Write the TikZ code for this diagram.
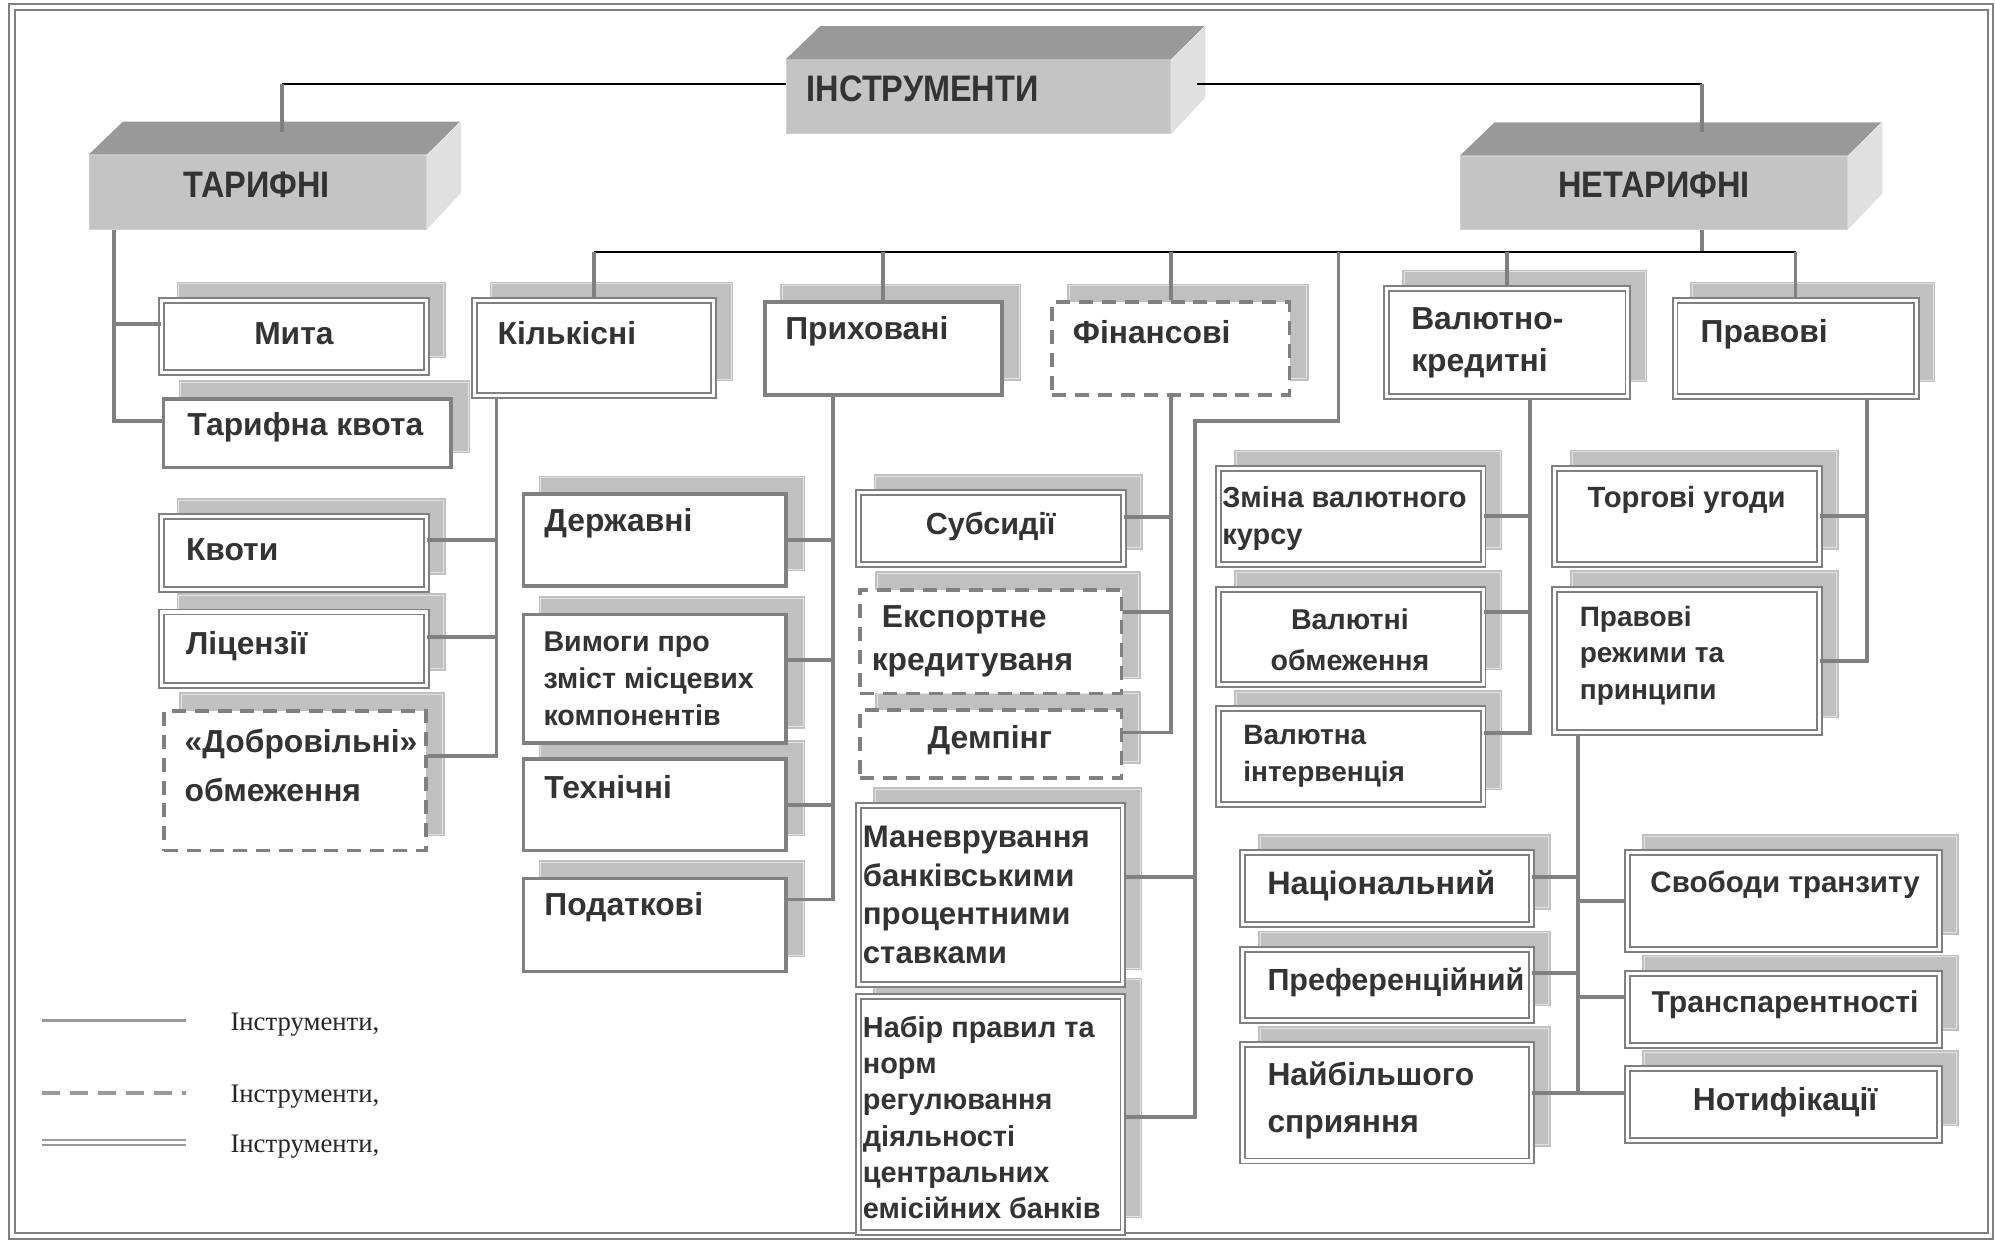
\documentclass[tikz,border=0pt]{standalone}
\usepackage{fontspec}
\setmainfont{Liberation Sans}
\newfontfamily\titfont{Liberation Sans}[FakeStretch=0.88]
\newfontfamily\legfont{Liberation Serif}
\usepackage{tikz}
\usetikzlibrary{shadows}
\definecolor{txt}{HTML}{333333}
\definecolor{lin}{HTML}{808080}
\definecolor{shd}{HTML}{C0C0C0}
\definecolor{shdin}{HTML}{E2E2E2}
\definecolor{front}{HTML}{C4C4C4}
\definecolor{topf}{HTML}{999999}
\definecolor{side}{HTML}{E0E0E0}
\definecolor{leg}{HTML}{999999}
\begin{document}
\begin{tikzpicture}[x=1pt, y=-1pt,
  Sz/.style 2 args={minimum width=#1pt, minimum height=#2pt, inner sep=0pt},
  Shd/.style={general shadow={fill=shd, draw=shd, solid, line width=1.4pt,
      double=shdin, double distance=0.5pt, shadow xshift=13.5pt, shadow yshift=13pt}},
  Dbl/.style={Shd, draw=lin, fill=white, line width=1.5pt, double=white, double distance=2.4pt},
  Thk/.style={Shd, draw=lin, fill=white, line width=3pt},
  Dsh/.style={Shd, draw=lin, fill=white, line width=3pt, dash pattern=on 11pt off 7pt},
  Cube/.style={fill=front, draw=front!80!white, line width=0.8pt},
  Tit/.style={font=\titfont\bfseries\fontsize{29}{32}\selectfont, text=txt, inner sep=0pt},
  Lb/.style 2 args={font=\bfseries\fontsize{#1}{#2}\selectfont, text=txt, inner sep=0pt, align=left},
  Gry/.style={draw=lin, line width=3pt},
  Blk/.style={draw=black, line width=1.5pt},
  Leg/.style={font=\legfont\fontsize{21}{25}\selectfont, text=black!85, inner sep=0pt, anchor=west},
  LgS/.style={draw=leg, line width=3pt},
  LgD/.style={draw=leg, line width=3pt, dash pattern=on 14pt off 8pt},
  LgW/.style={draw=leg, line width=1.6pt, double=white, double distance=2.5pt}]
  \useasboundingbox (0,0) rectangle (1568,975);
  \draw[lin, line width=1.5pt, double=white, double distance=3pt] (9.5,5.5) rectangle (1564.5,971.5);

  \node[Cube, Sz={302}{58}] (instr) at (769,76) {};
  \node[Cube, Sz={265}{58}] (tar) at (202.5,151) {};
  \node[Cube, Sz={304}{57.4}] (netar) at (1300,151.3) {};
  \foreach \n/\w in {instr/302, tar/265, netar/304} {
    \fill[topf] (\n.north west) -- ++(27,-26) -- ++(\w,0) -- (\n.north east) -- cycle;
    \fill[side] (\n.north east) -- ++(27,-26) -- ++(0,56) -- (\n.south east) -- cycle;
  }
  \node[Tit, anchor=west] (instrT) at (634,69.5) {ІНСТРУМЕНТИ};
  \node[Tit, anchor=west] (tarT) at (144,145.5) {ТАРИФНІ};
  \node[Tit] (netarT) at (1300,145) {НЕТАРИФНІ};

  \node[Thk, Sz={226}{54}] (tkvota) at (241.5,340.5) {};
  \node[Dbl, Sz={208}{57}] (mita) at (231,264.5) {};
  \node[Dsh, Sz={205.5}{110}] (dobr) at (231.75,613.5) {};
  \node[Dbl, Sz={208}{57.6}] (lits) at (231,509.8) {};
  \node[Dbl, Sz={208}{57}] (kvoty) at (231,434.5) {};
  \node[Dbl, Sz={188}{75}] (kilk) at (467,273.5) {};
  \node[Thk, Sz={206}{73}] (podatk) at (514.5,727) {};
  \node[Thk, Sz={206}{72}] (tekhn) at (514.5,632.5) {};
  \node[Thk, Sz={206}{101}] (vymogy) at (514.5,533.5) {};
  \node[Thk, Sz={206}{72}] (derzh) at (514.5,424.5) {};
  \node[Thk, Sz={186.5}{73}] (prykh) at (694.25,274) {};
  \node[Dbl, Sz={208}{186}] (nabir) at (778.6,876) {};
  \node[Dbl, Sz={208}{140.7}] (manevr) at (778.6,703.35) {};
  \node[Dsh, Sz={205.5}{53.5}] (demp) at (778.75,584.75) {};
  \node[Dsh, Sz={205.5}{81.5}] (eksp) at (778.75,504.25) {};
  \node[Dbl, Sz={208.3}{56.5}] (subs) at (778.85,415.25) {};
  \node[Dsh, Sz={186.5}{73}] (fin) at (920.25,274) {};
  \node[Dbl, Sz={189.5}{85.2}] (valkr) at (1184.75,269.2) {};
  \node[Dbl, Sz={189.5}{75.8}] (prav) at (1411.25,273.9) {};
  \node[Dbl, Sz={207.6}{75.6}] (valint) at (1061.8,594.8) {};
  \node[Dbl, Sz={207.6}{75}] (valobm) at (1061.8,500.5) {};
  \node[Dbl, Sz={207.6}{75.5}] (zmina) at (1061.8,405.75) {};
  \node[Dbl, Sz={208}{112.8}] (pravrezh) at (1326,519.4) {};
  \node[Dbl, Sz={208}{75.5}] (torg) at (1326,405.75) {};
  \node[Dbl, Sz={227}{91.5}] (naib) at (1090.2,866.75) {};
  \node[Dbl, Sz={227}{56}] (pref) at (1090.2,774) {};
  \node[Dbl, Sz={227}{56.5}] (nats) at (1090.2,698.25) {};
  \node[Dbl, Sz={245.5}{56.6}] (notyf) at (1401.55,868.3) {};
  \node[Dbl, Sz={245.5}{56.6}] (transp) at (1401.55,793.3) {};
  \node[Dbl, Sz={245.5}{76}] (svob) at (1401.55,708) {};

  \node[Lb={25}{30}] (mitaT) at (231,262) {Мита};
  \node[Lb={25}{30}] (tkvotaT) at (240,336) {Тарифна квота};
  \node[Lb={25}{30}, anchor=west] (kilkT) at (391,262) {Кількісні};
  \node[Lb={25}{30}, anchor=west] (prykhT) at (617,260.7) {Приховані};
  \node[Lb={25}{30}, anchor=west] (finT) at (843,260.7) {Фінансові};
  \node[Lb={25}{32.6}, anchor=west] (valkrT) at (1109,269.3) {Валютно-\\кредитні};
  \node[Lb={25}{30}, anchor=west] (pravT) at (1336.5,263) {Правові};
  \node[Lb={25}{30}, anchor=west] (kvotyT) at (146,432) {Квоти};
  \node[Lb={25}{30}, anchor=west] (litsT) at (146,508) {Ліцензії};
  \node[Lb={25}{39}, anchor=west] (dobrT) at (145,601.5) {«Добровільні»\\обмеження};
  \node[Lb={25}{30}, anchor=west] (derzhT) at (427.7,411) {Державні};
  \node[Lb={22.5}{29}, anchor=west] (vymogyT) at (427,533.3) {Вимоги про\\зміст місцевих\\компонентів};
  \node[Lb={25}{30}, anchor=west] (tekhnT) at (427.7,618.5) {Технічні};
  \node[Lb={25}{30}, anchor=west] (podatkT) at (427.7,713) {Податкові};
  \node[Lb={24}{30}] (subsT) at (778.6,414) {Субсидії};
  \node[Lb={25}{33.6}, anchor=west] (ekspT) at (685,504.2) {\hspace{8pt}Експортне\\кредитуваня};
  \node[Lb={25}{30}] (dempT) at (778,581.8) {Демпінг};
  \node[Lb={24.5}{30.4}, anchor=west] (manevrT) at (678,703.4) {Маневрування\\банківськими\\процентними\\ставками};
  \node[Lb={22.7}{28.5}, anchor=west] (nabirT) at (678,878.4) {Набір правил та\\норм\\регулювання\\діяльності\\центральних\\емісійних банків};
  \node[Lb={22.8}{29}, anchor=west] (zminaT) at (960.5,407.5) {Зміна валютного\\курсу};
  \node[Lb={22.5}{32.3}, align=center] (valobmT) at (1061,502.7) {Валютні\\обмеження};
  \node[Lb={22}{29}, anchor=west] (valintT) at (977,594.5) {Валютна\\інтервенція};
  \node[Lb={23}{30}] (torgT) at (1325.6,393) {Торгові угоди};
  \node[Lb={22}{28.5}, anchor=west] (pravrezhT) at (1241.5,515.3) {Правові\\режими та\\принципи};
  \node[Lb={25.5}{30}, anchor=west] (natsT) at (995.8,695.7) {Національний};
  \node[Lb={24}{30}, anchor=west] (prefT) at (996,771.7) {Преференційний};
  \node[Lb={25}{36.6}, anchor=west] (naibT) at (996,864.7) {Найбільшого\\сприяння};
  \node[Lb={23.2}{30}] (svobT) at (1403,695.7) {Свободи транзиту};
  \node[Lb={23.7}{30}] (transpT) at (1403,790) {Транспарентності};
  \node[Lb={25}{30}] (notyfT) at (1403,866) {Нотифікації};

  \coordinate (jT) at (221.5,66);
  \coordinate (jN) at (1338,66);
  \coordinate (hub) at (1338,198);
  \coordinate (jL) at (1052,198);
  \coordinate (jM) at (939,331);
  \draw[Blk] (jT) -- (instr.west |- jT);
  \draw[Blk] ([xshift=20pt]instr.east |- jN) -- (jN);
  \draw[Gry] (jT) -- ++(0,38);
  \draw[Gry] (jN) -- ++(0,38);
  \draw[Gry] ([xshift=38pt]netar.south) -- (hub);
  \draw[Blk] (kilk.north |- hub) -- (prav.north |- hub);
  \foreach \n in {kilk, prykh, fin, valkr, prav}
    \draw[Gry] (\n.north |- hub) -- (\n.north);
  \draw[Gry] (jL) |- (jM) |- ([yshift=-2pt]nabir.east);
  \draw[Gry] ([yshift=14pt]manevr.east) -- ++(56,0);
  \foreach \n/\d in {mita/10, tkvota/9.5}
    \draw[Gry] ([xshift=20pt]tar.south west) |- ([yshift=\d pt]\n.west);
  \foreach \n/\d in {kvoty/10, lits/9, dobr/19.5}
    \draw[Gry] ([xshift=18pt]kilk.south west) |- ([yshift=\d pt]\n.east);
  \foreach \n/\d in {derzh/0, vymogy/14.5, tekhn/0, podatk/20}
    \draw[Gry] ([xshift=55pt]prykh.south west) |- ([yshift=\d pt]\n.east);
  \foreach \n/\d in {subs/9, eksp/23, demp/9}
    \draw[Gry] (fin.south) |- ([yshift=\d pt]\n.east);
  \foreach \n/\d in {zmina/0, valobm/19.5, valint/19}
    \draw[Gry] ([xshift=18pt]valkr.south) |- ([yshift=\d pt]\n.east);
  \foreach \n in {torg, pravrezh}
    \draw[Gry] ([xshift=56pt]prav.south) |- (\n.east);
  \foreach \n/\d in {nats/9, pref/9, naib/8}
    \draw[Gry] ([xshift=19pt]pravrezh.south west) |- ([yshift=\d pt]\n.east);
  \foreach \n/\d in {svob/0, transp/10, notyf/9}
    \draw[Gry] ([xshift=19pt]pravrezh.south west) |- ([yshift=\d pt]\n.west);

  \foreach \y/\s [count=\i] in {802/LgS, 859/LgD, 898/LgW} {
    \draw[\s] (33,\y) -- (146,\y);
    \node[Leg] (leg\i) at (181,\y+3) {Інструменти,};
  }
\end{tikzpicture}
\end{document}
